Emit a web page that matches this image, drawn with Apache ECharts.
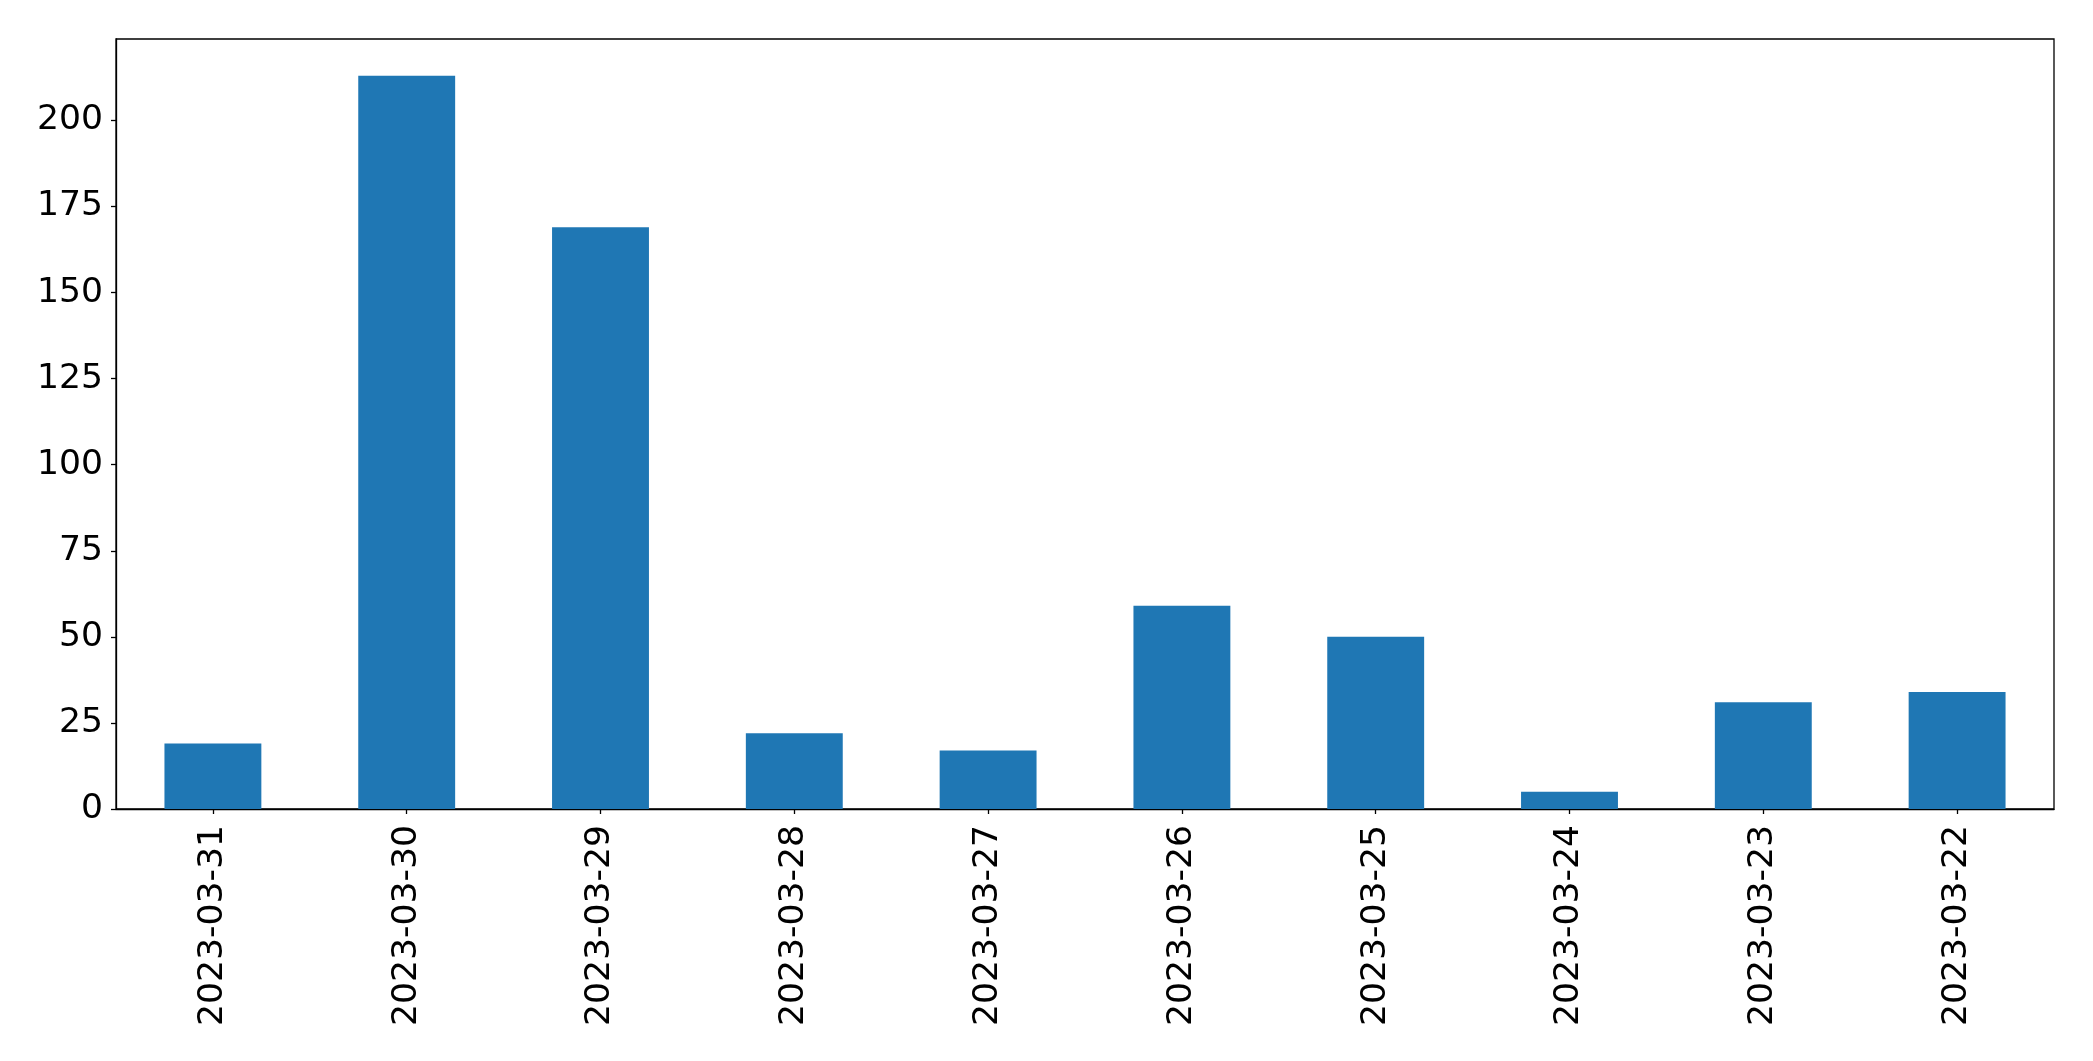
<!DOCTYPE html>
<html>
<head>
<meta charset="utf-8">
<script src="https://cdn.jsdelivr.net/npm/echarts@6/dist/echarts.min.js"></script>
<style>html,body{margin:0;padding:0;background:#fff;}#c{width:2093px;height:1061px;}</style>
</head>
<body>
<div id="c"></div>
<script>
const categories = ['2023-03-31','2023-03-30','2023-03-29','2023-03-28','2023-03-27','2023-03-26','2023-03-25','2023-03-24','2023-03-23','2023-03-22'];
const values = [19, 213, 169, 22, 17, 59, 50, 5, 31, 34];
const yTicks = [0, 25, 50, 75, 100, 125, 150, 175, 200];

const chart = echarts.init(document.getElementById('c'), null, {renderer: 'canvas'});
const font = 'DejaVu Sans';
chart.setOption({
  animation: false,
  backgroundColor: '#ffffff',
  grid: {left: 116, top: 39, right: 39, bottom: 252, show: true, borderColor: '#000', borderWidth: 1.3, backgroundColor: 'transparent'},
  xAxis: {
    type: 'category',
    data: categories,
    boundaryGap: true,
    axisLine: {show: true, lineStyle: {color: '#000', width: 1.3}},
    axisTick: {show: true, alignWithLabel: true, length: 5, lineStyle: {color: '#000', width: 1.3}},
    axisLabel: {rotate: 90, fontSize: 34.6, fontFamily: font, color: '#000', margin: 16, interval: 0}
  },
  yAxis: {
    type: 'value',
    min: 0,
    max: 223.65,
    interval: 25,
    splitLine: {show: false},
    axisLine: {show: true, lineStyle: {color: '#000', width: 1.3}},
    axisTick: {show: true, length: 5, customValues: yTicks, lineStyle: {color: '#000', width: 1.3}},
    axisLabel: {fontSize: 34.6, fontFamily: font, color: '#000', margin: 13, customValues: yTicks,
      formatter: function (v) { return yTicks.indexOf(v) >= 0 ? String(v) : ''; }}
  },
  series: [{
    type: 'bar',
    data: values,
    barWidth: '50%',
    itemStyle: {color: '#1f77b4'}
  }]
});
</script>
</body>
</html>
